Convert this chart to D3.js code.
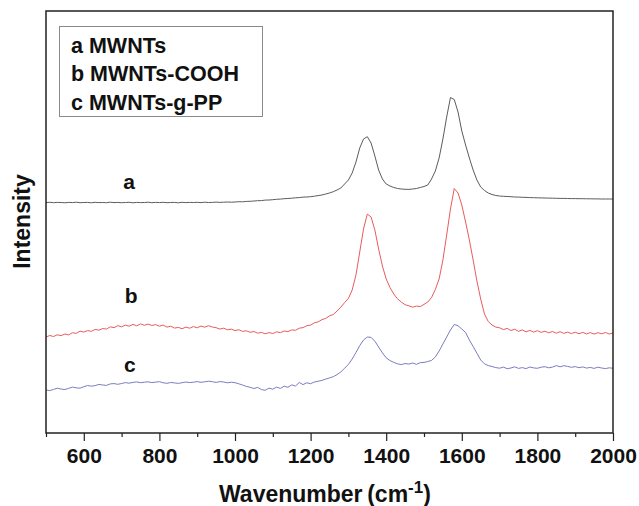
<!DOCTYPE html>
<html>
<head>
<meta charset="utf-8">
<script src="https://cdn.jsdelivr.net/npm/d3@7"></script>
<style>
  html, body { margin: 0; padding: 0; background: #fff; }
  svg { display: block; }
  text { font-family: "Liberation Sans", Arial, sans-serif; font-weight: bold; fill: #111; }
</style>
</head>
<body>
<svg id="chart" width="639" height="506"></svg>
<script>
// Raman spectra, sampled every 10 cm-1 from 500 to 2000 cm-1 (intensity in arbitrary units)
const wavenumberStart = 500;
const wavenumberStep = 10;

const seriesNames = ["a", "b", "c"];
const legendLabels = ["a MWNTs", "b MWNTs-COOH", "c MWNTs-g-PP"];
const seriesColors = ["#5c5c5c", "#e85c5c", "#7c7cc2"];

const majorTicks = [600, 800, 1000, 1200, 1400, 1600, 1800, 2000];
const minorTicks = [500, 700, 900, 1100, 1300, 1500, 1700, 1900];

// a: MWNTs
const intensityA = [
  230.4, 230.7, 230.3, 230.6, 230.5, 230.2, 230.6, 230.4, 230.8, 230.3,
  230.5, 230.6, 230.2, 230.7, 230.4, 230.5, 230.3, 230.8, 230.4, 230.6,
  230.3, 230.5, 230.7, 230.2, 230.6, 230.4, 230.5, 230.8, 230.3, 230.6,
  230.4, 230.7, 230.3, 230.5, 230.6, 230.2, 230.7, 230.4, 230.6, 230.5,
  230.7, 230.4, 230.8, 230.5, 230.6, 230.9, 230.6, 230.8, 231.0, 230.8,
  231.0, 231.3, 231.2, 231.6, 231.7, 232.0, 232.3, 232.4, 232.9, 233.0,
  233.3, 233.7, 233.9, 234.3, 234.5, 234.8, 235.2, 235.4, 235.9, 236.0,
  236.3, 236.8, 237.4, 238.0, 239.0, 240.0, 241.3, 243.0, 245.0, 249.0,
  253.0, 260.0, 271.0, 285.0, 294.0, 296.3, 290.0, 277.0, 263.0, 254.0,
  249.0, 247.0, 245.5, 244.5, 244.0, 243.7, 243.6, 244.0, 244.5, 245.5,
  246.5, 248.0, 254.0, 262.0, 275.0, 294.0, 316.0, 335.5, 333.5, 321.0,
  302.0, 288.0, 275.0, 263.0, 253.0, 246.0, 242.5, 240.0, 238.5, 237.5,
  237.0, 236.7, 236.5, 236.3, 236.0, 235.9, 235.7, 235.6, 235.4, 235.3,
  235.2, 235.1, 235.0, 234.9, 234.8, 234.7, 234.6, 234.6, 234.5, 234.4,
  234.4, 234.3, 234.3, 234.2, 234.2, 234.1, 234.1, 234.0, 234.0, 234.0,
  234.0
];

// b: MWNTs-COOH
const intensityB = [
  96.0, 97.5, 96.5, 98.2, 97.4, 99.0, 98.1, 100.3, 99.6, 101.8,
  100.9, 102.4, 101.7, 103.6, 102.8, 104.5, 103.9, 106.2, 105.3, 107.4,
  106.1, 107.9, 106.8, 108.6, 107.2, 109.1, 107.7, 108.9, 107.5, 108.4,
  106.8, 107.9, 105.9, 106.8, 104.9, 105.6, 104.3, 105.9, 104.8, 106.4,
  105.2, 106.9, 105.8, 107.3, 106.0, 105.3, 103.9, 104.8, 103.2, 103.9,
  102.4, 103.3, 101.6, 102.2, 100.7, 101.5, 99.8, 100.6, 99.2, 100.4,
  99.5, 101.2, 100.3, 102.0, 101.4, 103.1, 102.7, 104.8, 105.4, 107.3,
  107.9, 110.2, 111.1, 113.4, 114.6, 117.2, 118.5, 122.0, 125.8, 130.4,
  134.6, 143.0, 158.0, 181.0, 204.0, 219.0, 216.0, 203.0, 184.0, 167.0,
  154.0, 145.5, 139.0, 134.2, 131.0, 128.3, 127.2, 125.8, 126.9, 126.4,
  128.6, 131.0, 135.5, 143.5, 154.0, 173.0, 198.0, 224.0, 244.5, 240.0,
  228.0, 211.0, 193.0, 173.0, 152.0, 134.0, 119.0, 111.5, 108.0, 105.9,
  105.2, 103.4, 104.6, 102.5, 103.8, 101.6, 103.1, 101.2, 102.6, 100.9,
  102.3, 100.6, 101.8, 100.2, 101.5, 99.8, 101.3, 99.6, 100.9, 99.4,
  100.8, 99.3, 100.6, 99.1, 100.4, 98.9, 100.3, 99.2, 100.5, 99.0,
  100.0
];

// c: MWNTs-g-PP
const intensityC = [
  43.0, 42.4, 43.6, 44.8, 43.9, 43.5, 44.6, 45.9, 45.2, 44.8,
  46.3, 47.5, 46.8, 47.4, 48.6, 48.0, 47.6, 49.1, 49.4, 48.7,
  49.5, 50.4, 49.8, 50.6, 51.1, 50.3, 50.8, 51.2, 50.4, 50.9,
  51.3, 50.2, 49.7, 50.5, 50.1, 49.6, 50.3, 51.0, 50.4, 50.8,
  51.4, 50.7, 51.2, 51.8, 51.3, 50.6, 51.4, 51.0, 50.2, 50.8,
  50.3, 49.2, 48.0, 46.6, 45.7, 44.5, 45.6, 43.4, 42.7, 44.9,
  43.8, 45.9, 44.6, 46.8, 45.7, 48.1, 47.0, 50.5, 48.4, 50.2,
  49.3, 51.0, 51.8, 52.6, 53.9, 55.1, 56.3, 58.4, 61.0, 64.8,
  68.6, 74.0, 80.5, 87.4, 93.0, 96.0, 95.6, 91.8, 86.0, 80.1,
  75.2, 72.4, 70.6, 69.2, 68.4, 69.5, 68.9, 70.0, 68.7, 70.3,
  70.6, 71.5, 72.6, 76.0, 82.0, 89.0, 96.0, 103.0, 108.5, 107.2,
  104.0, 100.5, 93.0, 86.5, 79.8, 73.0, 69.2, 67.4, 66.5, 65.4,
  64.8, 65.9, 64.3, 65.0, 66.2, 64.6, 65.4, 64.4, 66.0, 65.1,
  64.7, 65.8, 66.3, 65.2, 65.9, 67.4, 66.2, 67.3, 66.6, 65.7,
  66.4, 65.3, 66.1, 64.9, 65.6, 64.6, 65.8, 65.0, 64.4, 65.2,
  64.7
];

// Letter labels placed beside each trace: [wavenumber, intensity]
const seriesLabelPos = [[720, 244], [725, 130], [722, 61]];

const allSeries = [intensityA, intensityB, intensityC];

const margin = { left: 46, right: 26, top: 11, bottom: 73 };
const width = 639, height = 506;

const svg = d3.select("#chart");

const x = d3.scaleLinear()
  .domain([500, 2000])
  .range([margin.left, width - margin.right]);

const y = d3.scaleLinear()
  .domain([0, 422])
  .range([height - margin.bottom, margin.top]);

// Spectra
const line = d3.line()
  .x(d => x(d[0]))
  .y(d => y(d[1]));

allSeries.forEach((vals, i) => {
  const pts = vals.map((v, k) => [wavenumberStart + k * wavenumberStep, v]);
  svg.append("path")
    .datum(pts)
    .attr("fill", "none")
    .attr("stroke", seriesColors[i])
    .attr("stroke-width", 1)
    .attr("stroke-linejoin", "round")
    .attr("d", line);
});

// Series letters
seriesNames.forEach((name, i) => {
  svg.append("text")
    .attr("x", x(seriesLabelPos[i][0]))
    .attr("y", y(seriesLabelPos[i][1]))
    .attr("text-anchor", "middle")
    .attr("font-size", 21)
    .text(name);
});

// Bottom axis: major labelled ticks and minor ticks
const axisY = height - margin.bottom;
const majorAxis = svg.append("g")
  .attr("transform", `translate(0,${axisY})`)
  .call(d3.axisBottom(x).tickValues(majorTicks).tickSize(8).tickPadding(7).tickFormat(d3.format("d")));
majorAxis.select(".domain").remove();
majorAxis.selectAll("line").attr("stroke", "#222").attr("stroke-width", 1.2);
majorAxis.selectAll("text")
  .attr("font-size", 21)
  .attr("font-family", "'Liberation Sans', Arial, sans-serif")
  .attr("font-weight", "bold")
  .attr("fill", "#111");

const minorAxis = svg.append("g")
  .attr("transform", `translate(0,${axisY})`)
  .call(d3.axisBottom(x).tickValues(minorTicks).tickSize(4).tickFormat(""));
minorAxis.select(".domain").remove();
minorAxis.selectAll("line").attr("stroke", "#222").attr("stroke-width", 1.2);

// Plot frame
svg.append("rect")
  .attr("x", margin.left)
  .attr("y", margin.top)
  .attr("width", width - margin.left - margin.right)
  .attr("height", height - margin.top - margin.bottom)
  .attr("fill", "none")
  .attr("stroke", "#222")
  .attr("stroke-width", 1.5);

// Legend box
const legend = svg.append("g");
legend.append("rect")
  .attr("x", 59.5).attr("y", 26.5)
  .attr("width", 203).attr("height", 90)
  .attr("fill", "none")
  .attr("stroke", "#8a8a8a")
  .attr("stroke-width", 1);
legendLabels.forEach((t, i) => {
  legend.append("text")
    .attr("x", 71)
    .attr("y", 52.5 + i * 28.8)
    .attr("font-size", 21.5)
    .text(t);
});

// Axis titles
const xTitle = svg.append("text")
  .attr("x", 219)
  .attr("y", 502)
  .attr("font-size", 23);
xTitle.append("tspan").text("Wavenumber\u2009(cm");
xTitle.append("tspan").attr("dy", -9).attr("font-size", 17).text("-1");
xTitle.append("tspan").attr("dy", 9).text(")");

svg.append("text")
  .attr("transform", "translate(30,221.5) rotate(-90)")
  .attr("text-anchor", "middle")
  .attr("font-size", 23)
  .text("Intensity");
</script>
</body>
</html>
